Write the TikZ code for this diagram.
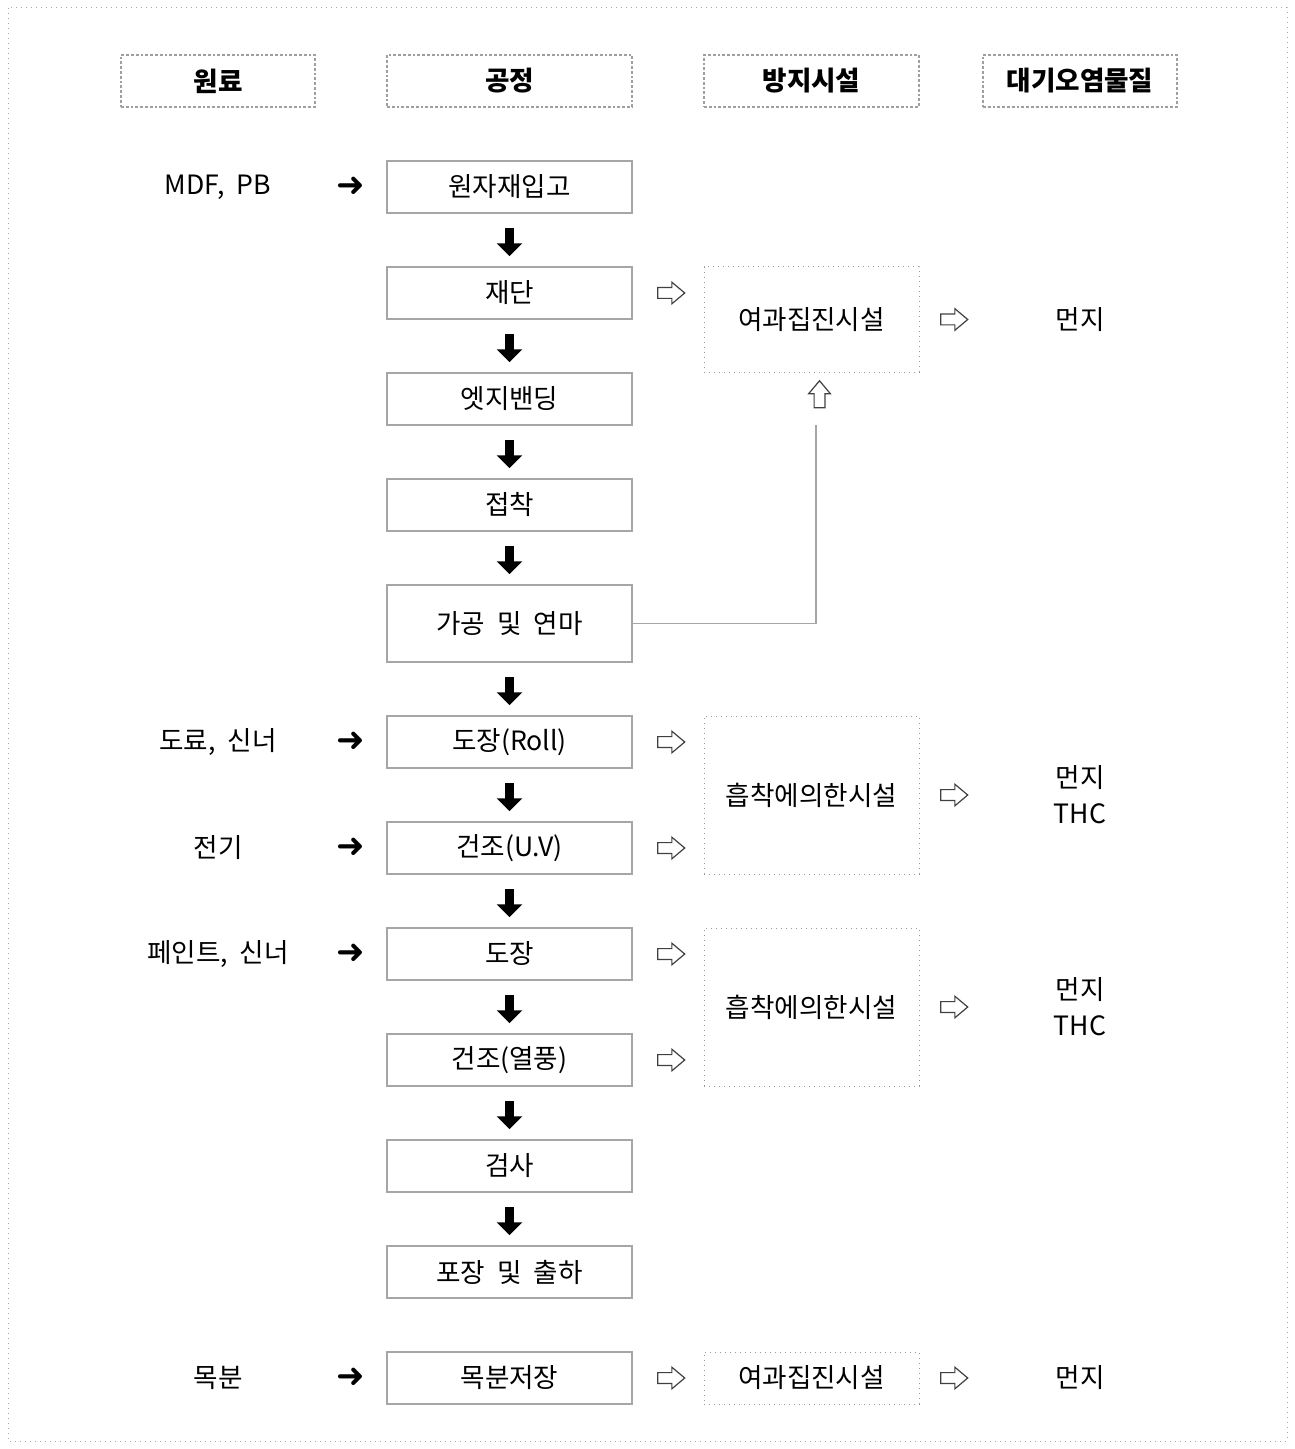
\documentclass[tikz,border=0pt]{standalone}
\usepackage{fontspec}
\setmainfont{Noto Sans CJK KR}
\newfontfamily\symfont{DejaVu Sans}
\usetikzlibrary{positioning,calc,shapes.arrows}
\newcommand\wsp{\hspace{0.45em}}

\begin{document}
\begin{tikzpicture}[x=0.5pt,y=-0.5pt,
    every node/.style={font=\fontsize{13.3}{18}\selectfont},
    headbox/.style={draw=gray!75, line width=1.4pt, densely dotted, minimum height=26pt, font=\fontsize{13.3}{16}\selectfont\bfseries},
    procbox/.style={draw=gray!70, line width=0.6pt, minimum width=122.5pt, minimum height=26pt, inner sep=0pt, outer sep=0pt},
    facbox/.style={draw=gray!80, dotted, line width=0.5pt, minimum width=107.5pt, inner sep=0pt, outer sep=0pt, align=center},
    downarr/.style={single arrow, fill=black, rotate=-90, minimum height=14pt, inner xsep=0pt, inner ysep=2pt,
      single arrow head extend=4.25pt},
    rawarr/.style={inner sep=0pt, font=\symfont\fontsize{17}{17}\selectfont},
    hollow/.style={single arrow, draw=black!75, line width=0.6pt, minimum height=13.5pt, inner xsep=0pt, inner ysep=2.4pt,
      single arrow head extend=2.7pt, single arrow tip angle=80},
    link/.style={draw=gray!70, line width=0.6pt},
  ]
  \useasboundingbox (0,0) rectangle (1294,1449);
  \draw[gray!70, dotted, line width=0.5pt] (8,8) rectangle (1287,1441);

  % column heads
  \node[headbox, minimum width=97pt] (hraw) at (218,81) {원료};
  \node[headbox, minimum width=122.5pt] (hproc) at (509.5,81) {공정};
  \node[headbox, minimum width=107.5pt] (hfac) at (811.5,81) {방지시설};
  \node[headbox, minimum width=97pt] (hemit) at (1080,81) {대기오염물질};

  % columns
  \coordinate (craw) at (218,0);
  \coordinate (carr) at (350.5,0);
  \coordinate (cout) at (668,0);
  \coordinate (cfac) at (811.5,0);
  \coordinate (cout2) at (951,0);
  \coordinate (cemit) at (1080,0);

  % process chain
  \node[procbox] (recv) at (509.5,187) {원자재입고};
  \node[procbox, below=27pt of recv] (cut) {재단};
  \node[procbox, below=27pt of cut] (edge) {엣지밴딩};
  \node[procbox, below=27pt of edge] (glue) {접착};
  \node[procbox, below=27pt of glue, minimum height=38.5pt] (sand) {가공\wsp 및\wsp 연마};
  \node[procbox, below=27pt of sand] (roll) {도장(Roll)};
  \node[procbox, below=27pt of roll] (uvdry) {건조(U.V)};
  \node[procbox, below=27pt of uvdry] (paint) {도장};
  \node[procbox, below=27pt of paint] (hotdry) {건조(열풍)};
  \node[procbox, below=27pt of hotdry] (check) {검사};
  \node[procbox, below=27pt of check] (pack) {포장\wsp 및\wsp 출하};
  \node[procbox, below=27pt of pack] (store) {목분저장};

  \foreach \a/\b in {recv/cut, cut/edge, edge/glue, glue/sand, sand/roll, roll/uvdry,
      uvdry/paint, paint/hotdry, hotdry/check, check/pack}
    \node[downarr] (dn-\a) at ($(\a.south)!0.5!(\b.north)$) {};

  % raw materials
  \foreach \p/\t in {recv/{MDF,\wsp PB}, roll/{도료,\wsp 신너}, uvdry/전기,
      paint/{페인트,\wsp 신너}, store/목분} {
    \node (in-\p) at (craw |- \p) {\t};
    \node[rawarr] (ar-\p) at (carr |- \p) {➜};
  }

  % control facilities
  \node[facbox, minimum height=52.5pt, anchor=north] (bag1) at (cfac |- cut.north) {여과집진시설};
  \node[facbox, minimum height=79pt, anchor=north] (ads1) at (cfac |- roll.north) {흡착에의한시설};
  \node[facbox, minimum height=79pt, anchor=north] (ads2) at (cfac |- paint.north) {흡착에의한시설};
  \node[facbox, minimum height=26pt] (bag2) at (cfac |- store) {여과집진시설};

  \foreach \p in {cut, roll, uvdry, paint, hotdry, store}
    \node[hollow] (to-\p) at (cout |- \p) {};
  \foreach \f in {bag1, ads1, ads2, bag2}
    \node[hollow] (out-\f) at (cout2 |- \f) {};

  % pollutants
  \node (em1) at (cemit |- bag1) {먼지};
  \node[align=center] (em2) at (cemit |- ads1) {먼지\\THC};
  \node[align=center] (em3) at (cemit |- ads2) {먼지\\THC};
  \node (em4) at (cemit |- bag2) {먼지};

  % dust line from sanding
  \node[hollow, rotate=90] (up) at (819.5,397.5) {};
  \coordinate (upfoot) at (816,425);
  \draw[link] (sand.east) -| (upfoot);
\end{tikzpicture}
\end{document}
